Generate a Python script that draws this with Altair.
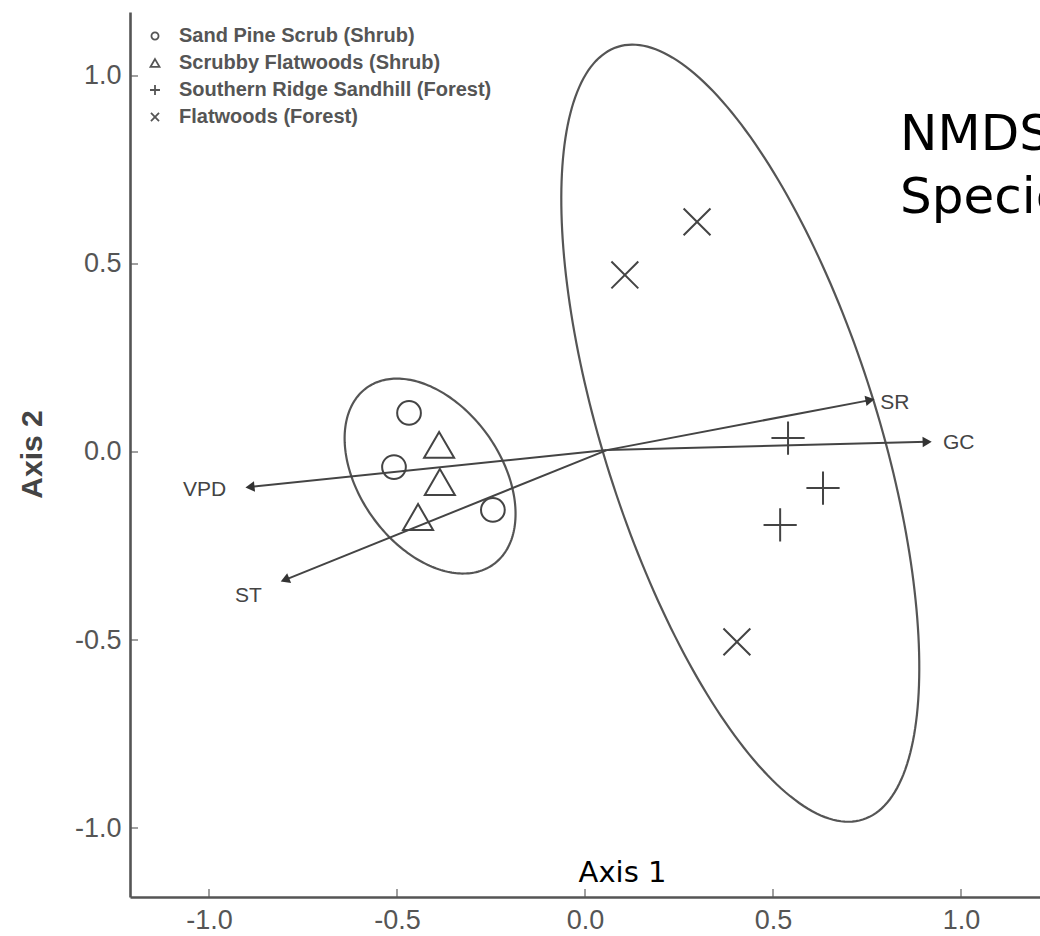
import altair as alt
import numpy as np
import pandas as pd

# ---------------- data ----------------
groups = ["Sand Pine Scrub (Shrub)", "Scrubby Flatwoods (Shrub)",
          "Southern Ridge Sandhill (Forest)", "Flatwoods (Forest)"]
site_group = [0, 0, 0, 1, 1, 1, 2, 2, 2, 3, 3, 3]
site_axis1 = [-0.468, -0.508, -0.245, -0.388, -0.386, -0.444,
              0.540, 0.633, 0.519, 0.106, 0.298, 0.404]
site_axis2 = [0.104, -0.040, -0.154, 0.019, -0.080, -0.173,
              0.037, -0.096, -0.194, 0.471, 0.612, -0.505]

vec_names = ["VPD", "ST", "SR", "GC"]
vec_x = [-0.891, -0.798, 0.758, 0.910]
vec_y = [-0.093, -0.340, 0.138, 0.027]
vec_origin_x = 0.058
vec_origin_y = 0.005
vec_label_x = [-1.069, -0.931, 0.785, 0.952]
vec_label_y = [-0.101, -0.383, 0.130, 0.024]

ell_names = ["Shrub", "Forest"]
ell_cx = [-0.412, 0.413]
ell_cy = [-0.064, 0.050]
ell_a = [0.289, 1.078]
ell_b = [0.188, 0.364]
ell_angle = [125.6, 107.6]

tick_vals = [-1.0, -0.5, 0.0, 0.5, 1.0]
title_lines = ["NMDS", "Species"]
title_x = [0.838, 0.838]
title_y = [0.803, 0.636]

X_DOM = [-1.2101, 1.2101]
Y_DOM = [-1.1835, 1.1702]

# ---------------- tables ----------------
sites = pd.DataFrame({
    "Axis1": site_axis1,
    "Axis2": site_axis2,
    "group": [groups[i] for i in site_group],
})

vec_dx = [x - vec_origin_x for x in vec_x]
vec_dy = [y - vec_origin_y for y in vec_y]
vectors = pd.DataFrame({
    "name": vec_names,
    "x0": [vec_origin_x] * len(vec_names),
    "y0": [vec_origin_y] * len(vec_names),
    "x1": vec_x,
    "y1": vec_y,
    "angle": [float(np.degrees(np.arctan2(dx, dy)) % 360) for dx, dy in zip(vec_dx, vec_dy)],
    "lx": vec_label_x,
    "ly": vec_label_y,
})

rows = []
t = np.linspace(0, 2 * np.pi, 241)
for name, cx, cy, a, b, ang in zip(ell_names, ell_cx, ell_cy, ell_a, ell_b, ell_angle):
    th = np.radians(ang)
    xs = cx + a * np.cos(th) * np.cos(t) - b * np.sin(th) * np.sin(t)
    ys = cy + a * np.sin(th) * np.cos(t) + b * np.cos(th) * np.sin(t)
    for i, (xx, yy) in enumerate(zip(xs, ys)):
        rows.append({"ell": name, "i": i, "x": float(xx), "y": float(yy)})
ellipses = pd.DataFrame(rows)

ticks = pd.DataFrame({"v": tick_vals})
titles = pd.DataFrame({"text": title_lines, "x": title_x, "y": title_y})

# ---------------- scales / axes ----------------
xs_ = alt.Scale(domain=X_DOM, nice=False, zero=False)
ys_ = alt.Scale(domain=Y_DOM, nice=False, zero=False)

lab_expr = "datum.value < 0 ? '-' + format(-datum.value, '.1f') : format(datum.value, '.1f')"

x_axis = alt.Axis(values=tick_vals, labelExpr=lab_expr, ticks=False, grid=False,
                  domainColor="#555", domainWidth=2.6,
                  labelFont="Liberation Sans", labelFontSize=27, labelColor="#555",
                  labelPadding=10, labelBaseline="top",
                  title="Axis 1", titleFont="DejaVu Sans", titleFontSize=29,
                  titleFontWeight="normal", titleColor="black",
                  titleX=492, titleY=-16, titleAlign="center", titleBaseline="alphabetic")
y_axis = alt.Axis(values=tick_vals, labelExpr=lab_expr, ticks=False, grid=False,
                  domainColor="#555", domainWidth=2.6,
                  labelFont="Liberation Sans", labelFontSize=27, labelColor="#555",
                  labelPadding=9,
                  title="Axis 2", titleFont="Liberation Sans", titleFontSize=30,
                  titleFontWeight="bold", titleColor="#444",
                  titleX=-98, titleY=442, titleAngle=270, titleAlign="center",
                  titleBaseline="middle")

# custom symbol paths (unit square -1..1), drawn at one common size
circle_path = "M-0.75,0A0.75,0.75,0,1,1,0.75,0A0.75,0.75,0,1,1,-0.75,0Z"
tri_path = "M0,-0.82L0.95,0.82L-0.95,0.82Z"
plus_path = "M-1.05,0H1.05M0,-1.05V1.05"
x_path = "M-0.85,-0.85L0.85,0.85M0.85,-0.85L-0.85,0.85"
shape_scale = alt.Scale(domain=groups, range=[circle_path, tri_path, plus_path, x_path])

base_x = alt.X("Axis1:Q", scale=xs_, axis=x_axis)
base_y = alt.Y("Axis2:Q", scale=ys_, axis=y_axis)

ell_layer = alt.Chart(ellipses).mark_line(color="#555", strokeWidth=2.2).encode(
    x=alt.X("x:Q", scale=xs_, axis=x_axis),
    y=alt.Y("y:Q", scale=ys_, axis=y_axis),
    detail="ell:N",
    order="i:Q",
)

points = alt.Chart(sites).mark_point(filled=False, color="#444", strokeWidth=2,
                                     opacity=1, size=1000).encode(
    x=base_x,
    y=base_y,
    shape=alt.Shape("group:N", scale=shape_scale,
                    legend=alt.Legend(orient="none", legendX=15, legendY=14, title=None,
                                      labelFont="Liberation Sans", labelFontSize=20,
                                      labelFontWeight="bold", labelColor="#555",
                                      symbolSize=90, symbolStrokeWidth=1.8,
                                      symbolStrokeColor="#555", symbolFillColor="white",
                                      rowPadding=7, labelOffset=14, padding=0,
                                      labelLimit=600)),
)

arrows = alt.Chart(vectors).mark_rule(color="#444", strokeWidth=2).encode(
    x=alt.X("x0:Q", scale=xs_), y=alt.Y("y0:Q", scale=ys_),
    x2="x1:Q", y2="y1:Q",
)
heads = alt.Chart(vectors).mark_point(shape="triangle-up", filled=True, color="#333",
                                      size=110, opacity=1).encode(
    x=alt.X("x1:Q", scale=xs_), y=alt.Y("y1:Q", scale=ys_),
    angle=alt.Angle("angle:Q", scale=None),
)
vlabels = alt.Chart(vectors).mark_text(font="Liberation Sans", fontSize=21, color="#444",
                                       align="left", baseline="middle").encode(
    x=alt.X("lx:Q", scale=xs_), y=alt.Y("ly:Q", scale=ys_), text="name:N",
)

xticks = alt.Chart(ticks).mark_tick(orient="vertical", size=8, thickness=1.6,
                                    color="#555", yOffset=-4).encode(
    x=alt.X("v:Q", scale=xs_), y=alt.datum(Y_DOM[0]),
)
yticks = alt.Chart(ticks).mark_tick(orient="horizontal", size=8, thickness=1.6,
                                    color="#555", xOffset=4).encode(
    y=alt.Y("v:Q", scale=ys_), x=alt.datum(X_DOM[0]),
)

title_txt = alt.Chart(titles).mark_text(font="DejaVu Sans", fontSize=50, color="black",
                                        align="left", baseline="alphabetic").encode(
    x=alt.X("x:Q", scale=xs_), y=alt.Y("y:Q", scale=ys_), text="text:N",
)

chart = alt.layer(
    ell_layer, arrows, heads, points, vlabels, xticks, yticks, title_txt
).properties(
    width=910, height=885,
    padding={"left": 130, "top": 12, "right": 0, "bottom": 39},
    autosize=alt.AutoSizeParams(type="none"),
    background="white",
).configure_view(stroke=None)

chart.save("out.html", embed_options={"renderer": "svg", "actions": False})
